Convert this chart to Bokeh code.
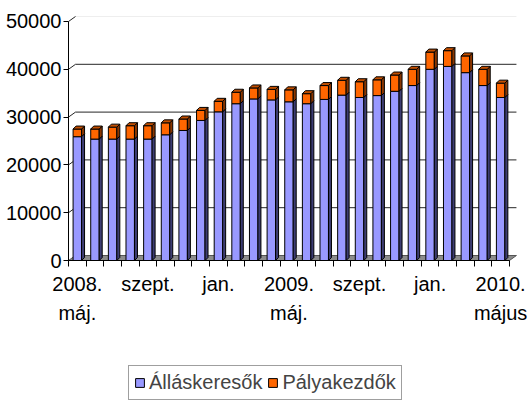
import numpy as np
from bokeh.plotting import figure
from bokeh.models import ColumnDataSource, FixedTicker, Legend, LegendItem, Range1d
from bokeh.embed import file_html
from bokeh.resources import INLINE

# ---- data ----
months = ["2008-05", "2008-06", "2008-07", "2008-08", "2008-09", "2008-10", "2008-11",
          "2008-12", "2009-01", "2009-02", "2009-03", "2009-04", "2009-05", "2009-06",
          "2009-07", "2009-08", "2009-09", "2009-10", "2009-11", "2009-12", "2010-01",
          "2010-02", "2010-03", "2010-04", "2010-05"]
allaskeresok = [25900, 25400, 25400, 25400, 25400, 26300, 27200, 29300, 31100, 32800, 33800,
                33600, 33200, 32800, 33700, 34600, 34100, 34500, 35400, 36600, 40000, 40600,
                39300, 36600, 34100]
palyakezdok = [1600, 2100, 2500, 2800, 2800, 2500, 2400, 2100, 2200, 2400, 2300, 2200,
               2500, 2100, 2900, 3100, 3300, 3300, 3400, 3400, 3600, 3300, 3500, 3400, 3000]
label_positions = [0, 4, 8, 12, 16, 20, 24]
label_texts = ["2008.\nmáj.", "szept.", "jan.", "2009.\nmáj.", "szept.", "jan.", "2010.\nmájus"]
y_ticks = [0, 10000, 20000, 30000, 40000, 50000]
series_names = ["Álláskeresők", "Pályakezdők"]

# ---- geometry / style ----
FONT = "Liberation Sans"
FS = "20px"
W, H = 528, 408
n = len(months)
PXX = 448 / 25.4            # pixels per category
PXY = 244 / 51046           # pixels per unit of value
# the frame covers the whole canvas; the chart area starts 68 px from the left,
# 16 px from the top, with the zero line 148 px above the bottom edge
X0 = -0.5 - 68 / PXX
X1 = (n - 0.5) + 0.4 + 12 / PXX
Y1 = 51046 + 16 / PXY
Y0 = -148 / PXY
ddx, ddy = 3 / PXX, 3 / PXY        # bar depth
wdx, wdy = 7 / PXX, 5 / PXY        # wall depth
BW = 0.48

x = np.arange(n, dtype=float)
blue = np.array(allaskeresok, dtype=float)
orng = np.array(palyakezdok, dtype=float)
total = blue + orng

p = figure(width=W, height=H, output_backend="svg", toolbar_location=None,
           x_range=Range1d(X0, X1), y_range=Range1d(Y0, Y1),
           min_border_left=0, min_border_right=0, min_border_top=0, min_border_bottom=0)
p.outline_line_color = None
p.xgrid.visible = False
p.ygrid.visible = False
p.background_fill_color = "white"

# floor
p.patch([-0.5, -0.5 + wdx, n - 0.5 + wdx, n - 0.5], [0, wdy, wdy, 0],
        fill_color="#8c8c8c", line_color="#555555", line_width=1)

# wall gridlines + side diagonals
gv = [v for v in y_ticks if v > 0]
p.segment(x0=[-0.5 + wdx] * len(gv), y0=[v + wdy for v in gv],
          x1=[n - 0.5 + wdx] * len(gv), y1=[v + wdy for v in gv],
          line_color=["#262626"] * (len(gv) - 1) + ["#eeeeee"], line_width=1)
p.segment(x0=[-0.5] * len(gv), y0=gv, x1=[-0.5 + wdx] * len(gv), y1=[v + wdy for v in gv],
          line_color="#262626", line_width=1)


def side_top(bottom, top):
    xs_s, ys_s, xs_t, ys_t = [], [], [], []
    for xi, b, t in zip(x, bottom, top):
        r = xi + BW / 2
        l = xi - BW / 2
        xs_s.append([r, r + ddx, r + ddx, r])
        ys_s.append([b, b + ddy, t + ddy, t])
        xs_t.append([l, l + ddx, r + ddx, r])
        ys_t.append([t, t + ddy, t + ddy, t])
    return xs_s, ys_s, xs_t, ys_t


src = ColumnDataSource(dict(x=x, blue=blue, total=total))

bs_x, bs_y, bt_x, bt_y = side_top(np.zeros(n), blue)
os_x, os_y, ot_x, ot_y = side_top(blue, total)

rb = p.vbar(x="x", bottom=0, top="blue", width=BW, source=src,
            fill_color="#9999FF", line_color="black", line_width=1)
p.patches(bs_x, bs_y, fill_color="#3d3d73", line_color="black", line_width=1)
ro = p.vbar(x="x", bottom="blue", top="total", width=BW, source=src,
            fill_color="#FF6600", line_color="black", line_width=1)
p.patches(os_x, os_y, fill_color="#8a3600", line_color="black", line_width=1)
p.patches(ot_x, ot_y, fill_color="#c24e00", line_color="black", line_width=1)

# axes (pinned inside the frame so nothing is clipped)
ya = p.yaxis[0]
ya.fixed_location = -0.5
ya.ticker = FixedTicker(ticks=y_ticks)
ya.bounds = (0, 50000)
ya.major_tick_out = 5
ya.major_tick_in = 0
ya.minor_tick_out = 0
ya.minor_tick_in = 0
ya.major_label_standoff = 2
ya.axis_line_color = "black"
ya.major_label_text_font = FONT
ya.major_label_text_font_size = FS
ya.major_label_text_color = "black"

xa = p.xaxis[0]
xa.fixed_location = 0
xa.ticker = FixedTicker(ticks=label_positions, minor_ticks=list(np.arange(n + 1) - 0.5))
xa.bounds = (-0.5, n - 0.5)
xa.major_tick_out = 0
xa.major_tick_in = 0
xa.minor_tick_out = 6
xa.minor_tick_in = 0
xa.minor_tick_line_color = "black"
xa.major_label_overrides = {pos: t for pos, t in zip(label_positions, label_texts)}
xa.major_label_standoff = 6
xa.major_label_text_font = FONT
xa.major_label_text_font_size = FS
xa.major_label_text_color = "black"
xa.major_label_text_line_height = 1.35
xa.axis_line_color = "black"

legend = Legend(items=[LegendItem(label=series_names[0], renderers=[rb]),
                       LegendItem(label=series_names[1], renderers=[ro])],
                orientation="horizontal", location=(128, 8),
                label_text_font=FONT, label_text_font_size=FS,
                glyph_width=11, glyph_height=11, label_standoff=4, spacing=5,
                padding=5, margin=0, border_line_color="#404040",
                background_fill_color="white", background_fill_alpha=1)
p.add_layout(legend)

open("out.html", "w").write(file_html(p, INLINE))
